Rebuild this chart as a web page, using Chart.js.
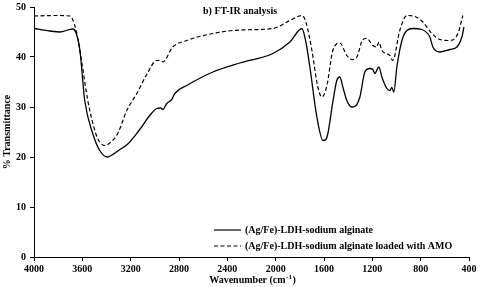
<!DOCTYPE html>
<html>
<head>
<meta charset="utf-8">
<script src="https://cdn.jsdelivr.net/npm/chart.js@4/dist/chart.umd.min.js"></script>
<style>
  html, body { margin: 0; padding: 0; background: #fff; }
  #wrap { width: 480px; height: 287px; }
</style>
</head>
<body>
<div id="wrap"><canvas id="c" width="480" height="287"></canvas></div>
<script>
// FT-IR spectra
var CHART_TITLE = 'b) FT-IR analysis';
var X_TITLE = 'Wavenumber (cm';
var Y_TITLE = '% Transmittance';
var SERIES_LABELS = ['(Ag/Fe)-LDH-sodium alginate', '(Ag/Fe)-LDH-sodium alginate loaded with AMO'];

var wnSolid = [4000, 3870, 3787, 3680, 3655, 3621, 3580, 3514, 3456, 3390, 3348, 3307, 3224, 3125, 3042,
  2984, 2951, 2934, 2901, 2860, 2835, 2736, 2520, 2296, 2023, 1882, 1783, 1750, 1717, 1659, 1609, 1585,
  1568, 1527, 1494, 1469, 1444, 1411, 1370, 1345, 1303, 1262, 1221, 1196, 1179, 1146, 1121, 1080, 1055,
  1039, 1022, 997, 955, 914, 864, 790, 724, 699, 641, 558, 500, 459, 442];
var tSolid = [45.7, 45.2, 45.0, 45.6, 45.0, 41.5, 31.3, 24.7, 21.3, 20.0, 20.5, 21.2, 22.6, 25.5, 28.3,
  29.7, 29.8, 29.5, 30.7, 31.5, 32.7, 34.3, 37.0, 38.8, 40.7, 43.0, 45.7, 43.0, 38.0, 28.0, 23.3, 23.5,
  24.7, 31.0, 35.3, 36.0, 34.0, 31.3, 30.0, 30.1, 32.0, 37.0, 37.7, 37.5, 36.7, 38.0, 36.0, 33.7, 33.3,
  33.9, 33.0, 38.0, 43.3, 45.3, 45.7, 45.5, 44.0, 42.0, 41.0, 41.5, 42.0, 44.0, 46.0];

var wnDashed = [4000, 3830, 3704, 3680, 3646, 3605, 3555, 3489, 3456, 3414, 3373, 3307, 3232, 3149, 3067,
  2984, 2960, 2934, 2852, 2736, 2520, 2296, 2023, 1882, 1783, 1750, 1700, 1651, 1617, 1576, 1527, 1469,
  1411, 1370, 1328, 1279, 1246, 1196, 1163, 1146, 1121, 1055, 1031, 973, 914, 848, 782, 707, 641, 558,
  492, 451];
var tDashed = [48.2, 48.3, 48.2, 47.5, 44.7, 39.0, 31.3, 24.7, 23.0, 22.3, 22.8, 24.7, 29.3, 32.7, 36.5,
  39.3, 39.3, 39.0, 42.0, 43.3, 44.7, 45.4, 45.7, 47.3, 48.3, 47.0, 41.3, 34.0, 32.0, 34.3, 41.3, 42.8,
  40.3, 39.5, 40.0, 43.5, 43.7, 42.3, 42.0, 43.0, 41.3, 40.3, 39.3, 45.3, 48.3, 48.1, 47.0, 44.7, 43.5,
  43.3, 44.7, 48.3];

var FONT = 'bold 10px "Liberation Serif", "Times New Roman", serif';
var SUP_FONT = 'bold 7px "Liberation Serif", "Times New Roman", serif';

function toPoints(xs, ys) {
  return xs.map(function (x, i) { return { x: x, y: ys[i] }; });
}

// titles + in-plot legend, drawn on top of the chart
var annotate = {
  id: 'annotate',
  afterDraw: function (chart) {
    var ctx = chart.ctx;
    var area = chart.chartArea;
    ctx.save();
    ctx.fillStyle = '#000';
    ctx.font = FONT;
    ctx.textBaseline = 'middle';

    // chart title inside the plot
    ctx.textAlign = 'left';
    ctx.fillText(CHART_TITLE, 203, 11);

    // x axis title with superscript
    var w1 = ctx.measureText(X_TITLE).width;
    ctx.font = SUP_FONT;
    var w2 = ctx.measureText('-1').width;
    ctx.font = FONT;
    var w3 = ctx.measureText(')').width;
    var x0 = 252 - (w1 + w2 + w3) / 2;
    ctx.fillText(X_TITLE, x0, 280);
    ctx.font = SUP_FONT;
    ctx.fillText('-1', x0 + w1 + 0.5, 277);
    ctx.font = FONT;
    ctx.fillText(')', x0 + w1 + w2 + 1, 280);

    // y axis title
    ctx.save();
    ctx.translate(7, (area.top + area.bottom) / 2);
    ctx.rotate(-Math.PI / 2);
    ctx.textAlign = 'center';
    ctx.fillText(Y_TITLE, 0, 0);
    ctx.restore();

    // legend
    chart.data.datasets.forEach(function (ds, i) {
      var y = 230 + i * 16;
      ctx.save();
      ctx.strokeStyle = '#000';
      ctx.lineWidth = 1.2;
      ctx.setLineDash(ds.borderDash || []);
      ctx.beginPath();
      ctx.moveTo(214, y);
      ctx.lineTo(241, y);
      ctx.stroke();
      ctx.restore();
      ctx.textAlign = 'left';
      ctx.fillText(ds.label, 245, y);
    });
    ctx.restore();
  }
};

var tickFont = { family: '"Liberation Serif", "Times New Roman", serif', size: 10, weight: 'bold' };

new Chart(document.getElementById('c'), {
  type: 'line',
  data: {
    datasets: [{
      label: SERIES_LABELS[0],
      data: toPoints(wnSolid, tSolid),
      borderColor: '#000',
      borderWidth: 1.3,
      pointRadius: 0,
      cubicInterpolationMode: 'monotone',
      fill: false,
    }, {
      label: SERIES_LABELS[1],
      data: toPoints(wnDashed, tDashed),
      borderColor: '#000',
      borderWidth: 1.2,
      borderDash: [4, 2.5],
      pointRadius: 0,
      cubicInterpolationMode: 'monotone',
      fill: false,
    }],
  },
  options: {
    responsive: false,
    animation: false,
    layout: { padding: { left: 0, top: 7, right: 11, bottom: 0 } },
    plugins: {
      legend: { display: false },
      tooltip: { enabled: false },
    },
    scales: {
      x: {
        type: 'linear',
        reverse: true,
        min: 400,
        max: 4000,
        border: { display: true, color: '#000', width: 1 },
        grid: { drawOnChartArea: false, drawTicks: true, tickLength: 4, color: '#000' },
        ticks: {
          stepSize: 400, color: '#000', font: tickFont, padding: 2, maxRotation: 0, autoSkip: false,
          callback: function (v) { return String(v); },
        },
        afterFit: function (scale) { scale.height = 30; scale.paddingLeft = 0; scale.paddingRight = 0; },
      },
      y: {
        min: 0,
        max: 50,
        border: { display: true, color: '#000', width: 1 },
        grid: { drawOnChartArea: false, drawTicks: true, tickLength: 4, color: '#000' },
        ticks: { stepSize: 10, color: '#000', font: tickFont, padding: 4 },
        afterFit: function (scale) { scale.width = 34; scale.paddingTop = 0; scale.paddingBottom = 0; },
      },
    },
  },
  plugins: [annotate],
});
</script>
</body>
</html>
